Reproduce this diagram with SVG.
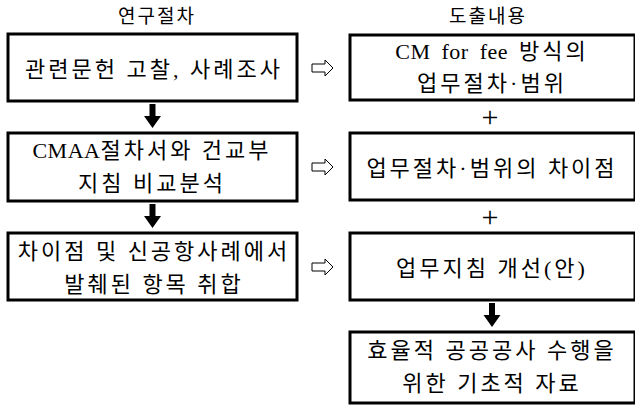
<svg xmlns="http://www.w3.org/2000/svg" width="635" height="406" viewBox="0 0 635 406">
<style>
.box{fill:#fff;stroke:#000;stroke-width:3}
.t{font-family:"Liberation Serif","Noto Sans CJK KR",serif;font-size:22px;fill:#000;text-anchor:middle;letter-spacing:3px}
.lat{letter-spacing:0.5px;word-spacing:5px}
.h{font-family:"Noto Sans CJK KR",sans-serif;font-size:19px;fill:#000;text-anchor:middle;letter-spacing:2px}
.da{fill:#000}
.ra{fill:#fff;stroke:#000;stroke-width:1}
.plus{font-family:"Liberation Serif",serif;font-size:30px;fill:#000;text-anchor:middle}
</style>
<rect width="635" height="406" fill="#fff"/>
<text class="h" x="157" y="23">연구절차</text>
<text class="h" x="488" y="23">도출내용</text>
<g id="L1"><rect class="box" x="8" y="34" width="289" height="67"/><text class="t" x="154" y="77">관련문헌 고찰, 사례조사</text></g>
<g id="L2"><rect class="box" x="8" y="133" width="289" height="68"/><text class="t" x="152" y="158"><tspan class="lat">CMAA</tspan>절차서와 건교부</text><text class="t" x="152" y="191">지침 비교분석</text></g>
<g id="L3"><rect class="box" x="8" y="233" width="289" height="67"/><text class="t" x="154" y="259">차이점 및 신공항사례에서</text><text class="t" x="154" y="292">발췌된 항목 취합</text></g>
<g id="R1"><rect class="box" x="350" y="35" width="285" height="65"/><text class="t" x="492" y="59"><tspan class="lat">CM for fee </tspan>방식의</text><text class="t" x="492" y="91">업무절차·범위</text></g>
<g id="R2"><rect class="box" x="350" y="133" width="285" height="67"/><text class="t" x="492" y="176">업무절차·범위의 차이점</text></g>
<g id="R3"><rect class="box" x="350" y="233" width="285" height="67"/><text class="t" x="492" y="276">업무지침 개선(안)</text></g>
<g id="R4"><rect class="box" x="350" y="332" width="285" height="71"/><text class="t" x="492" y="358">효율적 공공공사 수행을</text><text class="t" x="492" y="391">위한 기초적 자료</text></g>
<g id="connectors">
<polygon class="da" points="149.5,104 155.5,104 155.5,116 161,116 152.5,128 144,116 149.5,116"/>
<polygon class="da" points="149.5,204 155.5,204 155.5,216 161,216 152.5,228 144,216 149.5,216"/>
<polygon class="da" points="489,303 495,303 495,315 500.5,315 492,327 483.5,315 489,315"/>
<polygon class="ra" points="312,64 325,64 325,60 333,68 325,76 325,72 312,72"/>
<polygon class="ra" points="312,163 325,163 325,159 333,167 325,175 325,171 312,171"/>
<polygon class="ra" points="312,263 325,263 325,259 333,267 325,275 325,271 312,271"/>
<text class="plus" x="490" y="127">+</text>
<text class="plus" x="490" y="227">+</text>
</g>
</svg>
